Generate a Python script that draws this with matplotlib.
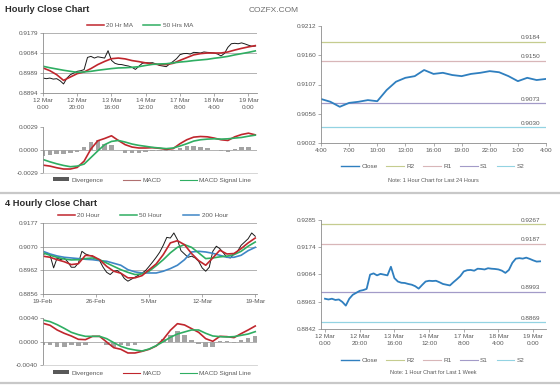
import numpy as np
import matplotlib.pyplot as plt
from matplotlib.lines import Line2D
from matplotlib.patches import Patch

plt.rcParams['font.family'] = ['Liberation Sans', 'DejaVu Sans']

W, H = 560, 386

# ---- hourly data, 12 Mar 0:00 .. 19 Mar 4:00 (trading hours) ----
week_hours = np.arange(0, 125, 2)
week_close = [0.8965, 0.8962, 0.8965, 0.8960, 0.8962, 0.8952, 0.8937, 0.8965, 0.8981, 0.8989,
              0.8997, 0.9000, 0.9005, 0.9063, 0.9068, 0.9060, 0.9066, 0.9063, 0.9060, 0.9095,
              0.9049, 0.9035, 0.9030, 0.9029, 0.9025, 0.9022, 0.9016, 0.9006, 0.9021, 0.9035,
              0.9038, 0.9037, 0.9038, 0.9032, 0.9025, 0.9022, 0.9019, 0.9032, 0.9044, 0.9057,
              0.9076, 0.9081, 0.9082, 0.9079, 0.9087, 0.9086, 0.9084, 0.9089, 0.9087, 0.9086,
              0.9084, 0.9079, 0.9070, 0.9082, 0.9111, 0.9128, 0.9130, 0.9128, 0.9132, 0.9127,
              0.9121, 0.9116, 0.9117]
ma_hours = np.arange(0, 125, 4)
ma20_hr = [0.9013, 0.9000, 0.8981, 0.8954, 0.8970, 0.8986, 0.8994, 0.9010, 0.9029, 0.9044,
           0.9057, 0.9060, 0.9056, 0.9048, 0.9043, 0.9037, 0.9032, 0.9029, 0.9029, 0.9035,
           0.9049, 0.9062, 0.9075, 0.9081, 0.9084, 0.9084, 0.9084, 0.9089, 0.9098, 0.9106,
           0.9113, 0.9119]
ma50_hr = [0.9021, 0.9014, 0.9008, 0.9002, 0.8997, 0.8992, 0.8994, 0.8997, 0.9002, 0.9006,
           0.9010, 0.9013, 0.9014, 0.9016, 0.9019, 0.9025, 0.9030, 0.9032, 0.9033, 0.9037,
           0.9041, 0.9044, 0.9048, 0.9051, 0.9054, 0.9059, 0.9063, 0.9068, 0.9075, 0.9081,
           0.9087, 0.9094]
macd_hr = [-0.00187, -0.00199, -0.00220, -0.00236, -0.00236, -0.00216, -0.00137, 0.00017,
           0.00120, 0.00149, 0.00183, 0.00124, 0.00071, 0.00041, 0.00029, 0.00029, 0.00033,
           0.00025, 0.00012, 0.00021, 0.00083, 0.00133, 0.00166, 0.00174, 0.00170, 0.00154,
           0.00133, 0.00124, 0.00170, 0.00199, 0.00216, 0.00195]
signal_hr = [-0.00116, -0.00145, -0.00170, -0.00191, -0.00207, -0.00199, -0.00174, -0.00091,
             -0.00008, 0.00071, 0.00112, 0.00124, 0.00104, 0.00079, 0.00062, 0.00050, 0.00037,
             0.00029, 0.00021, 0.00029, 0.00054, 0.00083, 0.00116, 0.00133, 0.00141, 0.00145,
             0.00141, 0.00145, 0.00154, 0.00162, 0.00178, 0.00191]
week_ticks = ['12 Mar\n0:00', '12 Mar\n20:00', '13 Mar\n16:00', '14 Mar\n12:00',
              '17 Mar\n8:00', '18 Mar\n4:00', '19 Mar\n0:00']

# ---- last 24 hours ----
day_hours = np.arange(25)
day_close = [0.9081, 0.9076, 0.9067, 0.9074, 0.9076, 0.9079, 0.9077, 0.9097, 0.9112, 0.9119,
             0.9122, 0.9133, 0.9126, 0.9128, 0.9124, 0.9122, 0.9126, 0.9128, 0.9131, 0.9129,
             0.9122, 0.9113, 0.9119, 0.9115, 0.9117]
day_ticks = ['4:00', '7:00', '10:00', '13:00', '16:00', '19:00', '22:00', '1:00', '4:00']
day_levels = [0.9184, 0.9150, 0.9073, 0.9030]
week_levels = [0.9267, 0.9187, 0.8993, 0.8869]
level_names = ['R2', 'R1', 'S1', 'S2']

# ---- 4 hourly data, 19 Feb .. 19 Mar ----
bar_idx = np.arange(0, 121, 2)
close_4h = [0.9034, 0.9042, 0.9031, 0.8974, 0.9019, 0.9011, 0.9019, 0.9001, 0.8977, 0.8977,
            0.8996, 0.9049, 0.9037, 0.9031, 0.9027, 0.9016, 0.9007, 0.8977, 0.8954, 0.8944,
            0.8959, 0.8962, 0.8950, 0.8926, 0.8914, 0.8923, 0.8932, 0.8941, 0.8951, 0.8962,
            0.8981, 0.9001, 0.9022, 0.9045, 0.9076, 0.9112, 0.9109, 0.9132, 0.9102, 0.9052,
            0.9037, 0.9022, 0.9027, 0.9019, 0.9004, 0.8974, 0.8959, 0.8977, 0.9049, 0.9072,
            0.9061, 0.9042, 0.9022, 0.9019, 0.9037, 0.9049, 0.9076, 0.9091, 0.9106, 0.9132,
            0.9117]
ma_idx = np.arange(0, 121, 4)
ma20_4h = [0.9027, 0.9022, 0.9011, 0.9002, 0.8989, 0.8993, 0.9031, 0.9028, 0.9011, 0.8981,
           0.8959, 0.8950, 0.8929, 0.8929, 0.8939, 0.8966, 0.8992, 0.9034, 0.9087, 0.9097,
           0.9079, 0.9039, 0.9007, 0.8986, 0.9019, 0.9054, 0.9037, 0.9039, 0.9061, 0.9087,
           0.9109]
ma50_4h = [0.9042, 0.9031, 0.9022, 0.9014, 0.9010, 0.9011, 0.9016, 0.9019, 0.9011, 0.8996,
           0.8981, 0.8966, 0.8954, 0.8944, 0.8947, 0.8959, 0.8984, 0.9011, 0.9042, 0.9067,
           0.9079, 0.9067, 0.9042, 0.9016, 0.9019, 0.9024, 0.9027, 0.9034, 0.9049, 0.9072,
           0.9091]
ma200_4h = [0.9049, 0.9037, 0.9028, 0.9022, 0.9019, 0.9016, 0.9013, 0.9011, 0.9007, 0.9004,
            0.8995, 0.8986, 0.8966, 0.8956, 0.8951, 0.8951, 0.8951, 0.8959, 0.8971, 0.8986,
            0.9011, 0.9046, 0.9049, 0.9046, 0.9040, 0.9031, 0.9022, 0.9022, 0.9031, 0.9052,
            0.9067]
macd_4h = [0.00314, 0.00280, 0.00200, 0.00143, 0.00097, 0.00040, 0.00034, 0.00091, 0.00091,
           -0.00006, -0.00103, -0.00131, -0.00194, -0.00194, -0.00166, -0.00131, -0.00074,
           0.00040, 0.00194, 0.00308, 0.00286, 0.00223, 0.00160, 0.00051, 0.00006, 0.00091,
           0.00086, 0.00069, 0.00137, 0.00200, 0.00268]
signal_4h = [0.00371, 0.00343, 0.00291, 0.00228, 0.00160, 0.00120, 0.00091, 0.00091, 0.00091,
             0.00051, -0.00017, -0.00080, -0.00120, -0.00143, -0.00160, -0.00126, -0.00069,
             0.00000, 0.00074, 0.00131, 0.00166, 0.00200, 0.00200, 0.00143, 0.00097, 0.00086,
             0.00080, 0.00086, 0.00108, 0.00131, 0.00171]
fourh_ticks = ['19-Feb', '26-Feb', '5-Mar', '12-Mar', '19-Mar']

RED = '#c0262d'
GREEN = '#2fae62'
BLUE200 = '#3f86c6'
CLOSE_BLUE = '#2f7fbf'
LEVEL_COLORS = ['#c5cc8f', '#d8b6b8', '#a39bc8', '#93d3e2']
GRID = '#a6a6a6'
AX = '#8c8c8c'
TXT = '#595959'
FS = 4.6

fig = plt.figure(figsize=(W / 100, H / 100), dpi=100)


def box(x0, y0, x1, y1):
    # pixel box -> figure axes
    return fig.add_axes([x0 / W, 1 - y1 / H, (x1 - x0) / W, (y1 - y0) / H])


def style(ax):
    for s in ['top', 'right']:
        ax.spines[s].set_visible(False)
    for s in ['left', 'bottom']:
        ax.spines[s].set_color(AX)
        ax.spines[s].set_linewidth(0.6)
    ax.tick_params(labelsize=FS, labelcolor=TXT, color=AX, length=2, width=0.5, pad=1.5)
    ax.set_axisbelow(True)


def legend(handles, labels, x, y, **kw):
    opts = dict(loc='center', ncol=len(handles), frameon=False, fontsize=FS,
                handlelength=2.6, handletextpad=0.4, columnspacing=1.8, borderaxespad=0,
                labelcolor=TXT)
    opts.update(kw)
    fig.legend(handles, labels, bbox_to_anchor=(x / W, 1 - y / H), **opts)


# ---- headers ----
fig.text(5 / W, 1 - 10 / H, 'Hourly Close Chart', fontsize=6.7, weight='bold',
         color='#2b2b2b', va='center')
fig.text(249 / W, 1 - 10 / H, 'COZFX.COM', fontsize=6, color='#6e6e6e', va='center')
fig.text(5 / W, 1 - 203 / H, '4 Hourly Close Chart', fontsize=6.7, weight='bold',
         color='#2b2b2b', va='center')
for yy in (192.5, 383):
    fig.add_artist(Line2D([0, 1], [1 - yy / H] * 2, transform=fig.transFigure,
                          color='#c8c8c8', lw=1.6))

# ---- hourly price ----
ax = box(43, 33, 257, 93)
style(ax)
ax.plot(week_hours, week_close, color='#1a1a1a', lw=0.7)
ax.plot(ma_hours, ma20_hr, color=RED, lw=1.2)
ax.plot(ma_hours, ma50_hr, color=GREEN, lw=1.2)
ax.set_xlim(0, 125)
ax.set_ylim(0.8894, 0.9179)
ax.set_yticks(np.linspace(0.8894, 0.9179, 4))
ax.yaxis.set_major_formatter(plt.FormatStrFormatter('%.4f'))
ax.yaxis.grid(True, color=GRID, lw=0.6)
ax.set_xticks(np.arange(0, 121, 20))
ax.set_xticklabels(week_ticks, linespacing=1.45)
legend([Line2D([], [], color=RED, lw=1.1), Line2D([], [], color=GREEN, lw=1.1)],
       ['20 Hr MA', '50 Hrs MA'], 140, 25, columnspacing=1.6)

# ---- hourly MACD ----
ax = box(43, 127.3, 257, 173.3)
style(ax)
div = np.array(macd_hr) - np.array(signal_hr)
ax.bar(ma_hours, div, width=2.6, color='#a3a3a3', lw=0)
ax.plot(ma_hours, macd_hr, color=RED, lw=1.2)
ax.plot(ma_hours, signal_hr, color=GREEN, lw=1.2)
ax.set_xlim(0, 125)
ax.set_ylim(-0.0029, 0.0029)
ax.set_yticks([-0.0029, 0.0, 0.0029])
ax.yaxis.set_major_formatter(plt.FormatStrFormatter('%.4f'))
ax.axhline(0, color=GRID, lw=0.6, zorder=0)
ax.spines['bottom'].set_color('#d0d0d0')
ax.tick_params(axis='x', bottom=False, labelbottom=False)
legend([Patch(facecolor='#595959'), Line2D([], [], color='#b07070', lw=0.8),
        Line2D([], [], color=GREEN, lw=0.8)],
       ['Divergence', 'MACD', 'MACD Signal Line'], 152, 180, columnspacing=3.0,
       handleheight=0.5)

# ---- last 24 hours ----
ax = box(321, 26, 546, 143)
style(ax)
for lev, c in zip(day_levels, LEVEL_COLORS):
    ax.axhline(lev, color=c, lw=0.9)
    ax.annotate('%.4f' % lev, xy=(0.975, lev), xycoords=ax.get_yaxis_transform(),
                xytext=(0, 1.2), textcoords='offset points', ha='right', va='bottom',
                fontsize=FS, color=TXT)
ax.plot(day_hours, day_close, color=CLOSE_BLUE, lw=1.3)
ax.set_xlim(0, 24)
ax.set_ylim(0.9002, 0.9212)
ax.set_yticks(np.linspace(0.9002, 0.9212, 5))
ax.set_yticklabels(['0.9002', '0.9056', '0.9107', '0.9160', '0.9212'])
ax.set_xticks(np.arange(0, 25, 3))
ax.set_xticklabels(day_ticks)
lev_handles = [Line2D([], [], color=CLOSE_BLUE, lw=1.0)] + \
    [Line2D([], [], color=c, lw=0.8) for c in LEVEL_COLORS]
legend(lev_handles, ['Close'] + level_names, 433, 166, columnspacing=1.4,
       handlelength=2.7)
fig.text(433 / W, 1 - 180 / H, 'Note: 1 Hour Chart for Last 24 Hours', fontsize=4.0,
         color=TXT, ha='center', va='center')

# ---- last week ----
ax = box(321, 220, 546, 329)
style(ax)
for lev, c in zip(week_levels, LEVEL_COLORS):
    ax.axhline(lev, color=c, lw=0.9)
    ax.annotate('%.4f' % lev, xy=(0.975, lev), xycoords=ax.get_yaxis_transform(),
                xytext=(0, 1.2), textcoords='offset points', ha='right', va='bottom',
                fontsize=FS, color=TXT)
ax.plot(week_hours, week_close, color=CLOSE_BLUE, lw=1.3)
ax.set_xlim(-2.3, 127.4)
ax.set_ylim(0.8842, 0.9285)
ax.set_yticks(np.linspace(0.8842, 0.9285, 5))
ax.set_yticklabels(['0.8842', '0.8963', '0.9064', '0.9174', '0.9285'])
ax.set_xticks(np.arange(0, 121, 20))
ax.set_xticklabels(week_ticks, linespacing=1.45)
legend(lev_handles, ['Close'] + level_names, 433, 360, columnspacing=1.4,
       handlelength=2.7)
fig.text(433 / W, 1 - 372 / H, 'Note: 1 Hour Chart for Last 1 Week', fontsize=4.0,
         color=TXT, ha='center', va='center')

# ---- 4 hourly price ----
ax = box(43, 223, 257, 294)
style(ax)
ax.plot(bar_idx, close_4h, color='#1a1a1a', lw=0.7)
ax.plot(ma_idx, ma200_4h, color=BLUE200, lw=1.2)
ax.plot(ma_idx, ma50_4h, color=GREEN, lw=1.2)
ax.plot(ma_idx, ma20_4h, color=RED, lw=1.2)
ax.set_xlim(0, 121)
ax.set_ylim(0.8856, 0.9177)
ax.set_yticks(np.linspace(0.8856, 0.9177, 4))
ax.set_yticklabels(['0.8856', '0.8962', '0.9070', '0.9177'])
ax.yaxis.grid(True, color=GRID, lw=0.6)
ax.set_xticks(np.arange(0, 121, 30))
ax.set_xticklabels(fourh_ticks)
legend([Line2D([], [], color=RED, lw=1.1), Line2D([], [], color=GREEN, lw=1.1),
        Line2D([], [], color=BLUE200, lw=1.1)],
       ['20 Hour', '50 Hour', '200 Hour'], 143, 215, columnspacing=3.2)

# ---- 4 hourly MACD ----
ax = box(43, 318.3, 257, 365)
style(ax)
div4 = np.array(macd_4h) - np.array(signal_4h)
ax.bar(ma_idx, div4, width=2.6, color='#a3a3a3', lw=0)
ax.plot(ma_idx, macd_4h, color=RED, lw=1.2)
ax.plot(ma_idx, signal_4h, color=GREEN, lw=1.2)
ax.set_xlim(0, 121)
ax.set_ylim(-0.004, 0.004)
ax.set_yticks([-0.004, 0.0, 0.004])
ax.yaxis.set_major_formatter(plt.FormatStrFormatter('%.4f'))
ax.axhline(0, color=GRID, lw=0.6, zorder=0)
ax.spines['bottom'].set_color('#d0d0d0')
ax.tick_params(axis='x', bottom=False, labelbottom=False)
legend([Patch(facecolor='#595959'), Line2D([], [], color=RED, lw=0.8),
        Line2D([], [], color=GREEN, lw=0.8)],
       ['Divergence', 'MACD', 'MACD Signal Line'], 152, 373, columnspacing=3.0,
       handleheight=0.5)

fig.savefig('out.png', dpi=100)
